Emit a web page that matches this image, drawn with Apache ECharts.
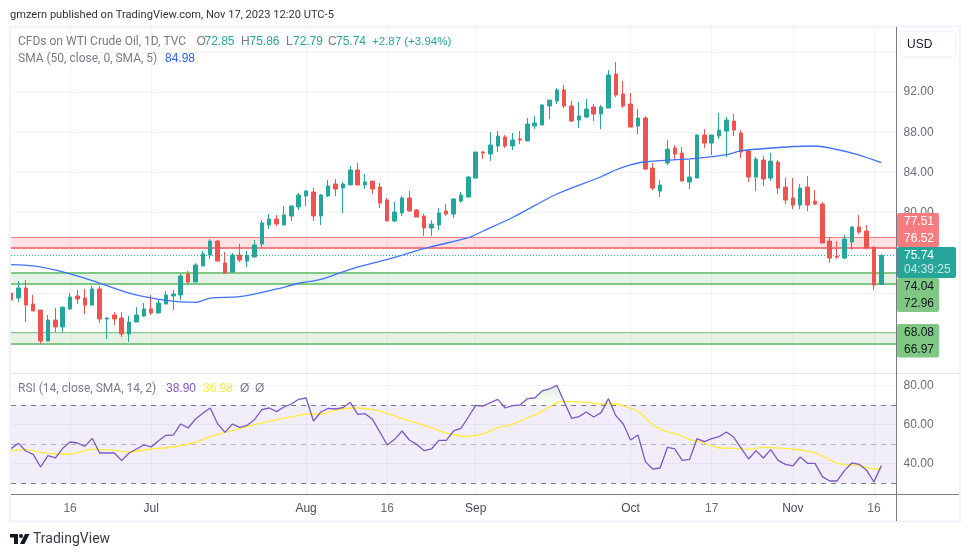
<!DOCTYPE html>
<html>
<head>
<meta charset="utf-8">
<title>CFDs on WTI Crude Oil</title>
<style>
html, body { margin: 0; padding: 0; background: #fff; }
#chart { width: 970px; height: 557px; }
</style>
<script src="https://cdn.jsdelivr.net/npm/echarts@6/dist/echarts.min.js"></script>
</head>
<body>
<div id="chart"></div>
<script>
// daily candles, first bar is Jun 6
var opens = [72.00,71.50,72.50,70.90,70.31,67.22,69.31,68.62,70.41,71.70,
  71.50,70.80,72.40,69.41,69.81,69.51,67.92,69.11,69.71,70.41,
  70.01,70.90,71.70,71.80,73.89,73.09,74.69,75.78,77.17,74.98,
  74.09,75.78,75.18,75.58,76.88,78.77,79.36,78.77,79.66,80.56,
  81.65,82.05,79.66,81.65,82.85,82.45,82.75,84.24,82.75,83.14,
  82.55,81.25,79.16,79.96,81.45,80.26,79.66,78.47,78.77,80.16,
  79.86,81.15,81.55,83.44,86.03,85.83,86.63,87.52,86.63,87.32,
  87.13,88.62,88.72,90.61,91.11,92.20,90.61,89.21,89.51,90.51,
  89.81,90.41,93.79,91.80,90.80,88.61,89.41,84.43,82.14,84.93,
  86.42,85.93,83.04,83.44,87.72,86.92,87.62,88.11,89.11,87.92,
  86.13,83.54,85.23,83.44,85.03,82.54,81.45,80.75,82.54,81.15,
  80.85,77.17,75.68,75.48,77.07,78.56,78.16,76.57,72.85];
var closes = [71.30,72.50,70.80,70.21,67.22,69.31,68.62,70.60,71.60,71.40,
  70.80,72.40,69.41,69.51,69.41,67.92,69.11,69.81,70.41,70.01,
  71.00,71.80,71.90,73.69,73.09,74.79,75.88,77.17,75.18,73.99,
  75.78,75.28,75.72,76.78,78.97,79.36,78.87,79.76,80.66,81.75,
  82.15,79.66,81.75,82.65,82.35,82.85,84.24,82.75,83.05,82.35,
  80.95,79.16,80.06,81.45,80.16,79.56,78.47,78.86,79.96,79.86,
  81.35,81.75,83.54,86.03,85.93,86.73,87.62,86.63,87.22,87.22,
  88.82,88.92,90.71,91.20,92.20,90.61,89.11,89.61,90.31,89.81,
  90.51,93.69,91.70,90.61,88.51,89.41,84.33,82.44,82.74,86.32,
  85.83,83.14,83.54,87.72,86.92,87.72,88.21,89.21,88.21,86.03,
  83.54,85.33,83.34,85.13,82.44,81.25,80.75,82.44,80.75,80.85,
  76.97,75.48,75.58,77.37,78.56,78.06,76.47,72.79,75.74];
var lows = [71.20,71.10,69.11,70.21,66.92,67.22,68.12,68.12,70.31,70.90,
  69.91,70.80,69.01,67.42,68.81,67.62,67.12,69.11,69.61,69.81,
  70.01,70.90,70.31,71.30,72.80,73.09,74.69,75.38,75.18,73.89,
  74.02,75.08,74.59,75.58,76.58,78.37,78.67,78.77,79.16,80.26,
  80.66,79.16,78.77,81.55,81.65,79.96,82.75,82.75,82.35,81.85,
  80.46,79.16,79.06,79.66,80.06,79.56,77.67,77.67,78.27,79.66,
  79.46,80.95,81.55,83.44,85.33,85.13,86.03,86.43,86.23,86.83,
  87.13,88.32,88.72,89.31,90.81,90.41,89.01,88.42,89.41,89.11,
  88.32,90.41,91.50,90.41,88.51,87.82,84.23,82.24,81.55,84.73,
  85.23,83.14,82.34,83.44,86.42,85.73,87.32,85.53,87.62,85.43,
  83.04,82.14,82.64,83.14,81.85,80.85,80.35,80.35,80.15,80.75,
  76.97,74.98,75.38,75.38,76.27,77.87,76.37,72.30,72.79];
var highs = [72.10,73.19,73.29,71.80,70.31,69.81,70.51,70.60,72.00,72.30,
  72.40,72.70,72.70,69.61,70.11,70.11,69.71,70.60,71.00,71.80,
  71.30,72.20,72.30,73.89,74.19,74.98,76.18,77.37,77.27,76.08,
  75.98,76.88,76.18,77.27,79.26,79.86,79.76,80.66,80.66,81.95,
  82.25,82.45,81.85,83.24,83.34,83.05,84.64,84.94,83.84,83.14,
  82.95,81.45,81.05,81.65,82.15,80.36,79.86,79.26,80.46,80.86,
  81.45,82.05,83.64,86.03,86.13,88.02,88.12,87.72,87.92,88.12,
  89.41,89.61,90.81,91.20,92.40,92.70,91.11,91.01,91.30,90.81,
  90.71,94.19,94.99,93.10,91.90,90.30,89.61,84.93,83.24,87.22,
  86.72,86.52,85.23,87.82,88.31,87.72,89.91,89.51,89.81,88.21,
  86.32,85.53,85.63,85.93,85.23,83.44,83.44,82.84,83.64,82.24,
  81.05,77.57,77.17,77.77,78.66,79.76,78.76,76.57,75.86];

// [bar, value] points of the 50 day average
var smaPoints = [[0,74.82],[3,74.69],[7,74.10],[11,73.24],[16,72.00],[21,71.27],[25,71.07],[27,71.50],
  [31,71.63],[36,72.40],[39,72.97],[42,73.36],[46,74.36],[51,75.35],[57,76.61],[62,77.50],[64,78.17],
  [68,79.51],[74,81.85],[80,83.57],[82,84.24],[84,84.74],[86,85.06],[93,85.40],[97,85.76],[99,86.16],
  [104,86.48],[106,86.58],[109,86.63],[112,86.28],[115,85.73],[118,84.98]];

var rsiValues = [47.61,50.34,46.41,44.70,38.21,44.02,42.82,47.78,51.03,50.51,
  48.80,52.91,45.39,45.39,45.39,41.45,45.39,47.44,49.49,48.46,
  51.71,54.44,54.61,60.26,58.21,62.82,65.73,68.46,60.43,55.98,
  60.26,58.55,59.57,62.48,67.61,68.46,66.58,68.97,70.51,72.91,
  73.59,61.80,66.41,68.29,67.95,68.63,71.37,65.21,65.56,62.65,
  56.15,49.49,52.39,56.67,52.05,49.83,46.58,47.44,51.88,51.88,
  56.67,58.03,63.85,69.83,69.49,71.20,72.91,68.46,69.66,70.00,
  73.25,73.59,77.18,78.21,80.08,71.54,63.16,64.02,66.41,63.85,
  66.07,73.25,64.53,60.26,52.05,54.61,40.94,37.18,37.69,48.29,
  47.44,41.62,42.14,52.73,51.20,52.73,53.76,56.15,53.42,47.78,
  42.31,46.58,42.82,47.09,41.62,39.57,38.72,43.33,40.09,40.09,
  33.25,31.03,31.03,36.33,40.26,39.57,36.50,30.51,38.90];

var rsiMaPoints = [[0,46.58],[2,47.09],[4,45.73],[6,44.87],[8,44.87],[11,47.27],[14,46.75],[16,45.90],
  [19,47.44],[22,48.46],[25,50.85],[27,53.76],[29,55.98],[31,57.86],[33,59.91],[36,62.48],[39,64.70],
  [40,65.38],[42,65.38],[44,67.27],[46,68.46],[47,68.46],[49,67.61],[51,65.73],[53,62.99],[55,60.77],
  [57,58.21],[59,55.64],[61,54.10],[62,53.93],[64,55.13],[66,58.38],[68,60.09],[70,63.33],[72,66.75],
  [74,71.20],[75,71.88],[78,71.37],[80,70.51],[82,70.51],[83,69.66],[85,66.75],[86,63.33],[87,59.91],
  [88,57.69],[89,56.33],[90,55.30],[91,53.93],[92,52.22],[93,51.54],[94,50.51],[95,48.97],[96,47.95],
  [98,47.78],[100,47.27],[102,48.29],[104,47.95],[106,47.44],[108,46.24],[109,45.39],[110,43.85],
  [112,40.09],[114,39.23],[115,38.89],[116,37.87],[117,37.18],[118,36.98]];

// support / resistance zones
var redZone = [76.52, 77.51];
var greenZones = [[72.96, 74.04], [66.97, 68.08]];
var lastPrice = 75.74;

var tickBars = [8, 19, 40, 51, 63, 84, 95, 106, 117];
var tickLabels = ['16', 'Jul', 'Aug', '16', 'Sep', 'Oct', '17', 'Nov', '16'];
var priceLabels = [92, 88, 84, 80];
var rsiLabels = [40, 60, 80];

var FontName = '"Liberation Sans", Arial, sans-serif';
var WordFont = 'Roboto, "Liberation Sans", sans-serif';
var UpColor = '#26a69a';
var DownColor = '#ef5350';
var GridColor = '#f0f3fa';
var AxisColor = '#787b86';
var TextColor = '#6a6d78';

// weekdays from Jun 6, two empty bars are left in front of the price axis
var categories = [];
var day = new Date(Date.UTC(2023, 5, 6));
while (categories.length < 121) {
  if (day.getUTCDay() != 0 && day.getUTCDay() != 6) categories.push(day.toISOString().slice(0, 10));
  day = new Date(day.getTime() + 86400000);
}

var candles = [];
for (var i = 0; i < opens.length; i++) {
  candles.push([opens[i], closes[i], lows[i], highs[i]]);
}

function isTick(index) {
  return tickBars.indexOf(index) >= 0;
}

function levelLine(value, color, width) {
  return { yAxis: value, lineStyle: { color: color, width: width, type: 'solid' } };
}

function text(x, y, str, color, size, align, family) {
  return {
    type: 'text', x: x, y: y, z: 110, silent: true,
    style: {
      text: str, fill: color, font: (size || 12) + 'px ' + (family || FontName),
      verticalAlign: 'middle', align: align || 'left'
    }
  };
}

function words(x, y, str, color, size) {
  return text(x, y, str, color, size || 12, 'left', WordFont);
}

function box(x, y, w, h, color, stroke, r) {
  return {
    type: 'rect', z: 100, silent: true,
    shape: { x: x, y: y, width: w, height: h, r: r || 0 },
    style: { fill: color, stroke: stroke || null, lineWidth: stroke ? 1.5 : 0 }
  };
}

function frameLine(x1, y1, x2, y2, color, width) {
  return {
    type: 'line', z: 101, silent: true,
    shape: { x1: x1, y1: y1, x2: x2, y2: y2 },
    style: { stroke: color, lineWidth: width || 1 }
  };
}

var GreenTag = '#81c784';
var RedTag = '#f77c80';
var DarkText = '#131722';

var graphics = [
  // the first candle must not show left of the pane
  box(0, 27, 9, 346, '#ffffff'),

  // frame of the panes
  frameLine(10, 26.5, 961, 26.5, GridColor, 2),
  frameLine(10, 27, 10, 522, GridColor, 2),
  frameLine(960, 27, 960, 522, GridColor, 2),
  frameLine(10, 521.5, 961, 521.5, GridColor, 2),
  frameLine(11, 373.5, 959, 373.5, '#e0e3eb', 1),
  frameLine(896.5, 27, 896.5, 521, AxisColor, 1),
  frameLine(11, 494.5, 959, 494.5, AxisColor, 1),

  // texts at the top
  words(10, 15, 'gmzern published on TradingView.com, Nov 17, 2023 12:20 UTC-5', '#333333', 11.1),
  words(18, 41.5, 'CFDs on WTI Crude Oil, 1D, TVC', AxisColor),
  text(196.5, 41.5, 'O', AxisColor, 12), text(204.5, 41.5, '72.85', UpColor, 12),
  text(241, 41.5, 'H', AxisColor, 12), text(249.5, 41.5, '75.86', UpColor, 12),
  text(286, 41.5, 'L', AxisColor, 12), text(293, 41.5, '72.79', UpColor, 12),
  text(328, 41.5, 'C', AxisColor, 12), text(336, 41.5, '75.74', UpColor, 12),
  text(372, 41.5, '+2.87 (+3.94%)', UpColor, 11.5),
  words(18, 59, 'SMA (50, close, 0, SMA, 5)', AxisColor),
  text(165, 59, '84.98', '#2962ff', 12),
  words(18, 388.5, 'RSI (14, close, SMA, 14, 2)', AxisColor),
  text(166, 388.5, '38.90', '#7e57c2', 12),
  text(203, 388.5, '36.98', '#ffeb3b', 12),
  text(240, 388.5, '\u00d8', AxisColor, 12),
  text(255, 388.5, '\u00d8', AxisColor, 12),

  // currency button
  box(900, 31.5, 56, 25.5, '#ffffff', GridColor, 5),
  text(919.7, 45, 'USD', DarkText, 12, 'center'),

  // price tags
  box(897, 213, 42, 34, RedTag, null, 2),
  text(904, 222, redZone[1].toFixed(2), '#ffffff', 12),
  text(904, 239, redZone[0].toFixed(2), '#ffffff', 12),
  box(897, 247, 59, 31, UpColor, null, 2),
  text(904, 256, lastPrice.toFixed(2), '#ffffff', 12),
  text(904, 269.5, '04:39:25', 'rgba(255,255,255,0.75)', 12),
  box(897, 278, 42, 34, GreenTag, null, 2),
  text(904, 287, greenZones[0][1].toFixed(2), DarkText, 12),
  text(904, 304, greenZones[0][0].toFixed(2), DarkText, 12),
  box(897, 324, 42, 33.5, GreenTag, null, 2),
  text(904, 333, greenZones[1][1].toFixed(2), DarkText, 12),
  text(904, 349.5, greenZones[1][0].toFixed(2), DarkText, 12),

  // TradingView logo and name
  { type: 'polygon', z: 100, silent: true, shape: { points: [[10, 534], [18, 534], [18, 544], [14, 544], [14, 537.6], [10, 537.6]] }, style: { fill: DarkText } },
  { type: 'circle', z: 100, silent: true, shape: { cx: 21, cy: 536, r: 2 }, style: { fill: DarkText } },
  { type: 'polygon', z: 100, silent: true, shape: { points: [[25, 534], [29.5, 534], [24.5, 544], [20, 544]] }, style: { fill: DarkText } },
  words(33, 539, 'TradingView', '#3a3d46', 14)
];

var option = {
  animation: false,
  backgroundColor: '#ffffff',
  textStyle: { fontFamily: FontName },
  graphic: graphics,
  grid: [
    { left: 11.1, width: 885, top: 27, height: 346.4 },
    { left: 11.1, width: 885, top: 373.5, height: 120.8 }
  ],
  xAxis: [
    {
      type: 'category', gridIndex: 0, data: categories, boundaryGap: false,
      axisLine: { show: false }, axisTick: { show: false }, axisLabel: { show: false },
      splitLine: { show: true, interval: function (index) { return isTick(index); }, lineStyle: { color: GridColor } }
    },
    {
      type: 'category', gridIndex: 1, data: categories, boundaryGap: false,
      axisLine: { show: false }, axisTick: { show: false },
      splitLine: { show: true, interval: function (index) { return isTick(index); }, lineStyle: { color: GridColor } },
      axisLabel: {
        margin: 8,
        interval: function (index) { return isTick(index); },
        formatter: function (value, index) {
          var label = tickLabels[tickBars.indexOf(index)];
          if (label == undefined) return '';
          return /\d/.test(label) ? '{day|' + label + '}' : '{month|' + label + '}';
        },
        rich: {
          day: { color: TextColor, fontSize: 12, fontFamily: FontName },
          month: { color: '#4a4d58', fontSize: 12, fontFamily: FontName }
        }
      }
    }
  ],
  yAxis: [
    {
      type: 'value', gridIndex: 0, position: 'right', min: 64, max: 98.47, interval: 4,
      axisLine: { show: false }, axisTick: { show: false },
      splitLine: { show: true, lineStyle: { color: GridColor } },
      axisLabel: {
        margin: 7.5, color: TextColor, fontSize: 12,
        formatter: function (value) {
          return priceLabels.indexOf(value) >= 0 ? value.toFixed(2) : '';
        }
      }
    },
    {
      type: 'value', gridIndex: 1, position: 'right', min: 24.2, max: 86.15,
      axisLine: { show: false },
      axisTick: { show: false, customValues: rsiLabels },
      splitLine: { show: true, lineStyle: { color: GridColor } },
      axisLabel: {
        margin: 7.5, color: TextColor, fontSize: 12, customValues: rsiLabels,
        formatter: function (value) { return value.toFixed(2); }
      }
    }
  ],
  series: [
    {
      name: 'WTI', type: 'candlestick', xAxisIndex: 0, yAxisIndex: 0, z: 3,
      barWidth: 4, large: false, data: candles,
      itemStyle: { color: UpColor, color0: DownColor, borderColor: UpColor, borderColor0: DownColor, borderWidth: 1 },
      markArea: {
        silent: true, z: 1,
        data: [
          [{ yAxis: redZone[0], itemStyle: { color: 'rgba(242,54,69,0.15)' } }, { yAxis: redZone[1] }],
          [{ yAxis: greenZones[0][0], itemStyle: { color: 'rgba(76,175,80,0.15)' } }, { yAxis: greenZones[0][1] }],
          [{ yAxis: greenZones[1][0], itemStyle: { color: 'rgba(76,175,80,0.15)' } }, { yAxis: greenZones[1][1] }]
        ]
      },
      markLine: {
        silent: true, z: 1, symbol: 'none', label: { show: false },
        data: [
          levelLine(redZone[1], RedTag, 1),
          levelLine(redZone[0], RedTag, 2),
          levelLine(greenZones[0][1], GreenTag, 2),
          levelLine(greenZones[0][0], GreenTag, 2),
          levelLine(greenZones[1][1], GreenTag, 1),
          levelLine(greenZones[1][0], GreenTag, 2),
          { yAxis: lastPrice, lineStyle: { color: UpColor, width: 1, type: [1, 2] } }
        ]
      }
    },
    {
      name: 'SMA', type: 'line', xAxisIndex: 0, yAxisIndex: 0, z: 4,
      data: smaPoints, symbol: 'none', smooth: 0.3,
      lineStyle: { color: '#3f72ff', width: 1.3 }
    },
    {
      name: 'RSI upper fill', type: 'line', xAxisIndex: 1, yAxisIndex: 1, z: 2,
      data: rsiValues.map(function (v) { return Math.max(v, 70); }),
      symbol: 'none', lineStyle: { width: 0 },
      areaStyle: {
        origin: 70,
        color: new echarts.graphic.LinearGradient(0, 0, 0, 1, [
          { offset: 0, color: 'rgba(76,175,80,0.3)' },
          { offset: 1, color: 'rgba(76,175,80,0)' }
        ])
      }
    },
    {
      name: 'RSI', type: 'line', xAxisIndex: 1, yAxisIndex: 1, z: 4,
      data: rsiValues, symbol: 'none',
      lineStyle: { color: '#7e57c2', width: 1.3 },
      markArea: {
        silent: true, z: 1,
        data: [[{ yAxis: 30, itemStyle: { color: 'rgba(126,87,194,0.1)' } }, { yAxis: 70 }]]
      },
      markLine: {
        silent: true, z: 2, symbol: 'none', label: { show: false },
        data: [
          { yAxis: 70, lineStyle: { color: AxisColor, width: 1, type: [5, 5] } },
          { yAxis: 50, lineStyle: { color: 'rgba(120,123,134,0.5)', width: 1, type: [5, 5] } },
          { yAxis: 30, lineStyle: { color: AxisColor, width: 1, type: [5, 5] } }
        ]
      }
    },
    {
      name: 'RSI MA', type: 'line', xAxisIndex: 1, yAxisIndex: 1, z: 3,
      data: rsiMaPoints, symbol: 'none', smooth: 0.3,
      lineStyle: { color: '#ffeb3b', width: 1.3 }
    }
  ]
};

var chart = echarts.init(document.getElementById('chart'), null, { renderer: 'canvas' });
chart.setOption(option);
</script>
</body>
</html>
